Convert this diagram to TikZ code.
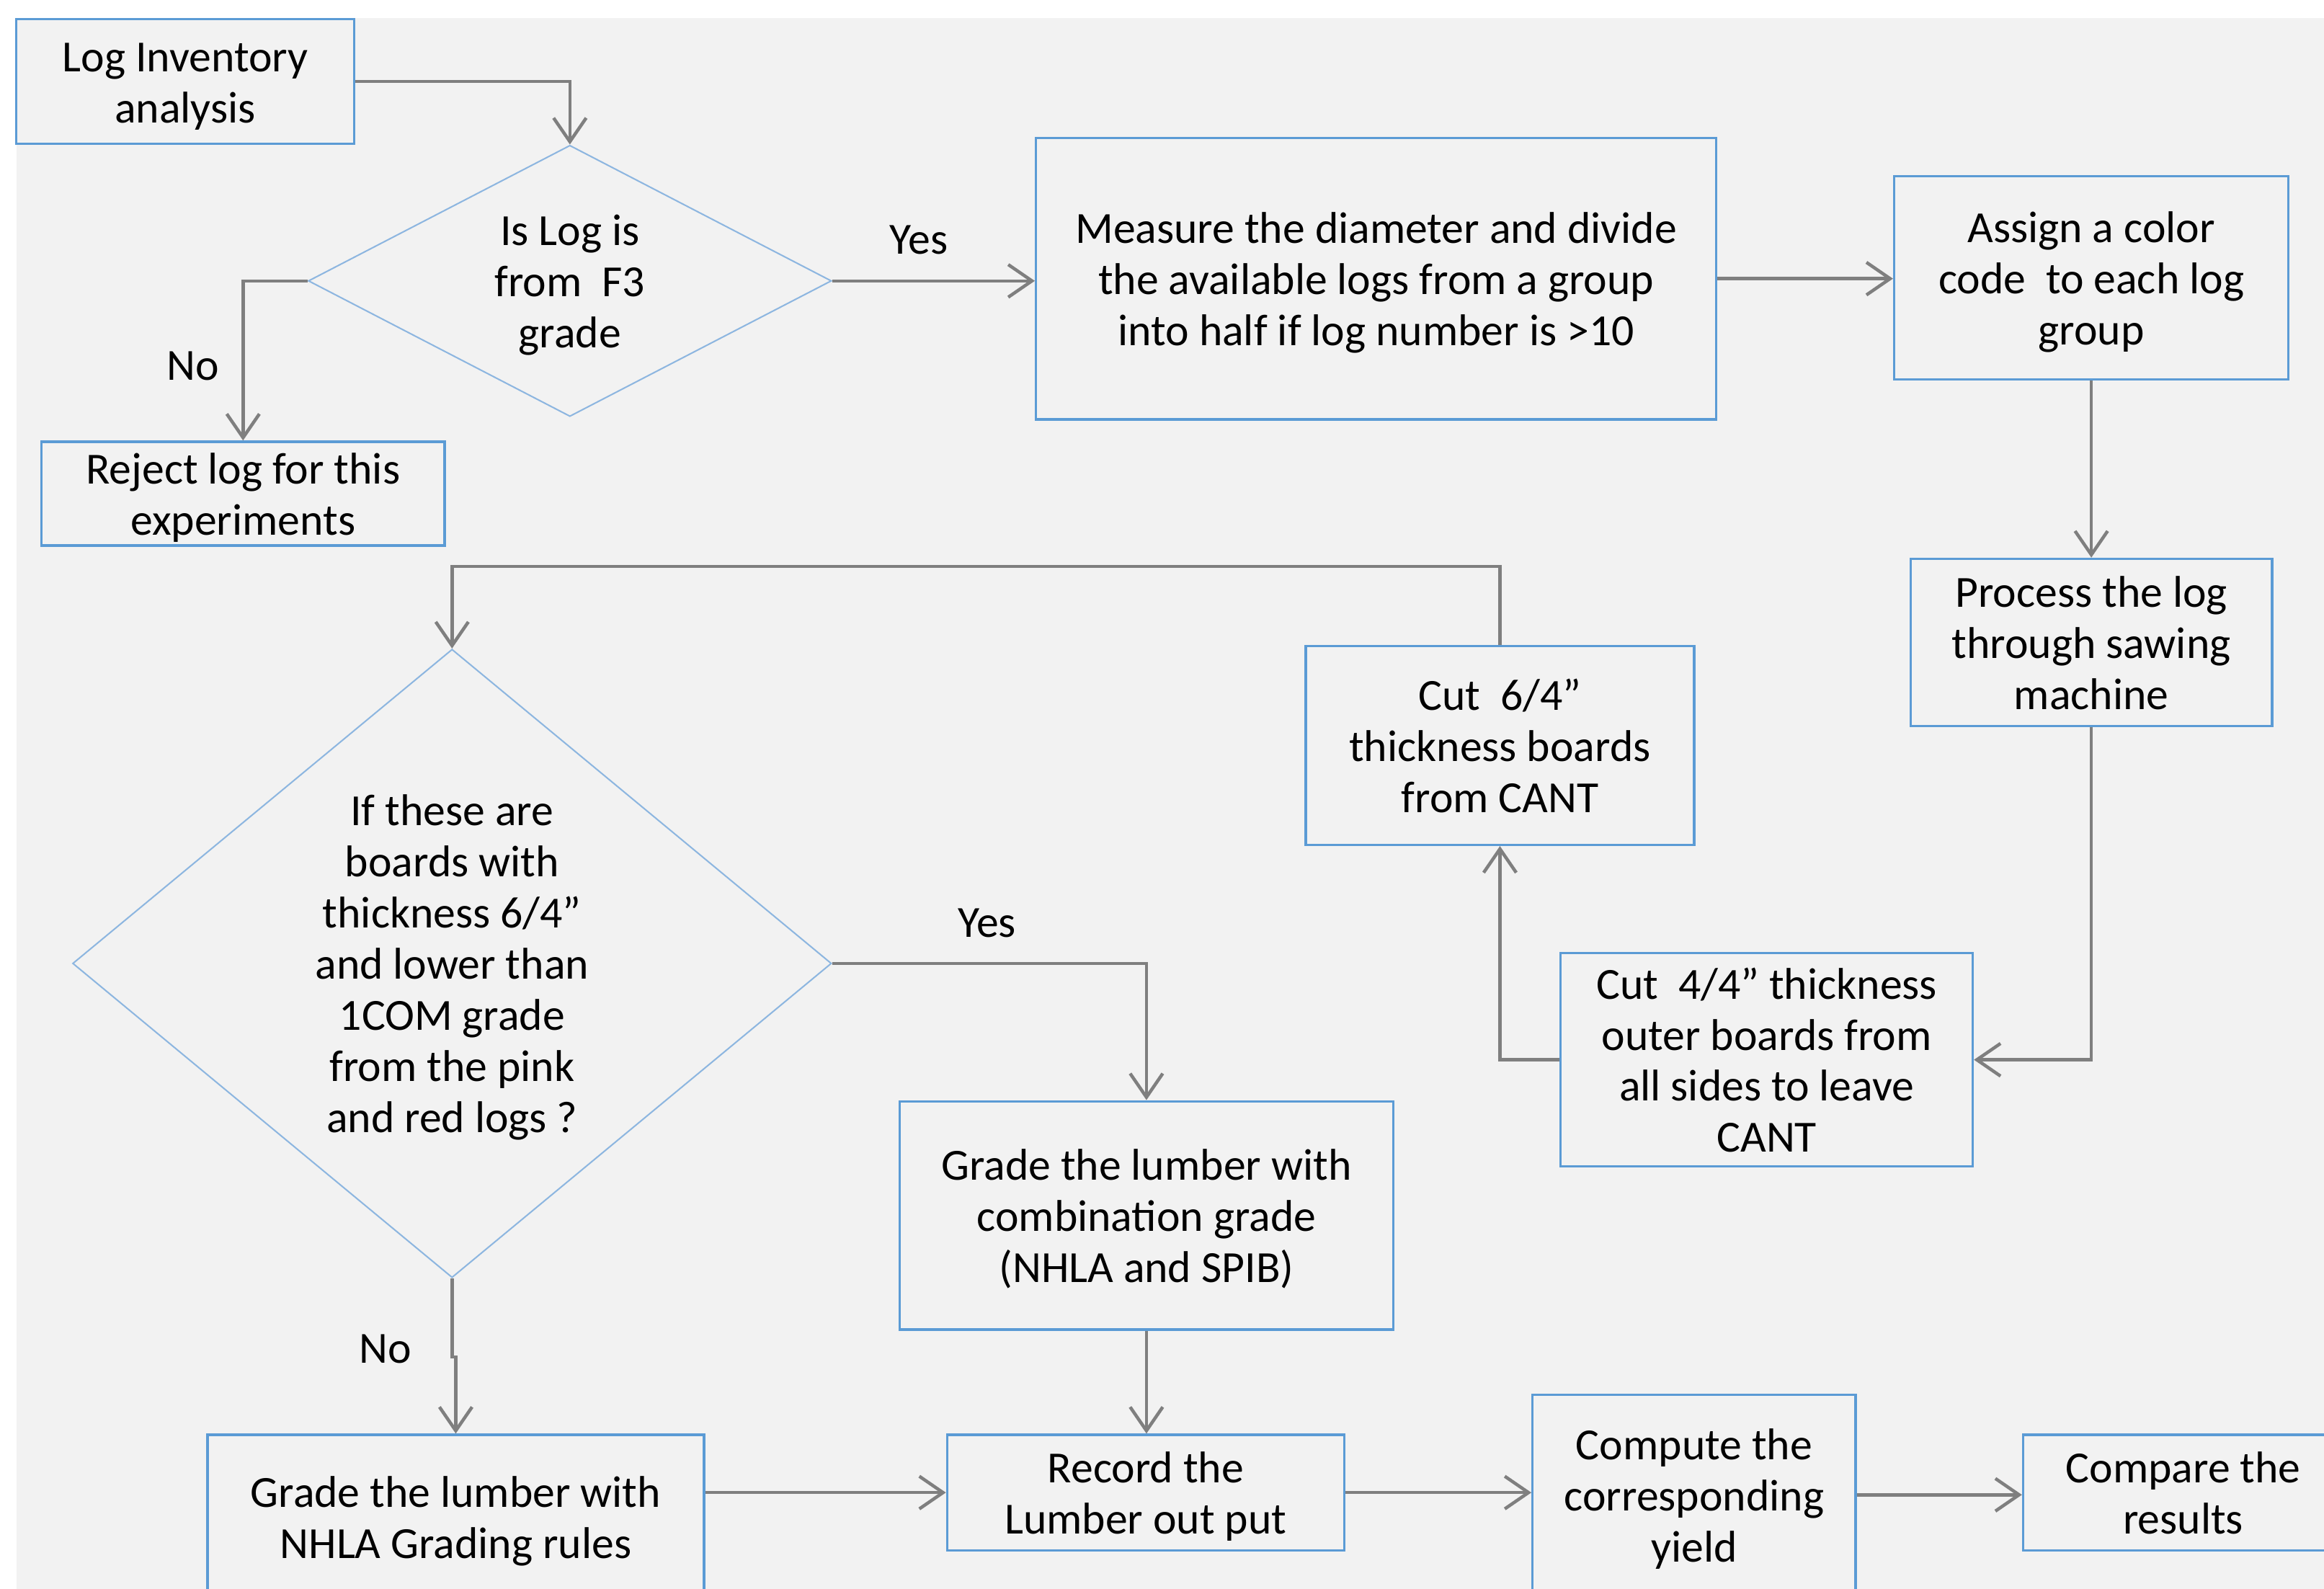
\documentclass[tikz,border=0pt]{standalone}
\usepackage{fontspec}
\setmainfont{Carlito}
\usetikzlibrary{shapes.geometric,arrows.meta}
\definecolor{bdr}{HTML}{5B9BD5}
\definecolor{dia}{HTML}{8DB6E0}
\definecolor{arr}{HTML}{7F7F7F}
\definecolor{bgc}{HTML}{F2F2F2}
\begin{document}
\begin{tikzpicture}[x=0.5pt,y=-0.5pt,
  txt/.style={font=\fontsize{15}{17.25}\selectfont,text=black},
  lines2/.style={text height=31.4pt,text depth=3.5pt},
  lines3/.style={text height=48.65pt,text depth=3.5pt},
  lines4/.style={text height=65.9pt,text depth=3.5pt},
  lines7/.style={text height=117.65pt,text depth=3.5pt},
  box/.style={txt,draw=bdr,line width=0.8pt,rectangle,inner sep=0pt,align=center},
  dec/.style={txt,draw=dia,line width=0.5pt,diamond,inner sep=0pt,align=center},
  conn/.style={draw=arr,line width=1.1pt,-{Straight Barb[length=8pt,width=11pt,line width=1.1pt]}},
  lbl/.style={txt}]
\useasboundingbox (0,0) rectangle (1568,1072);
\clip (0,0) rectangle (1568,1072);
\fill[white] (0,0) rectangle (1568,1072);
\fill[bgc] (11,12) rectangle (1568,1072);

\node[box,lines2,minimum width=114pt,minimum height=42pt] (A) at (125,55) {Log Inventory\\analysis};
\node[dec,lines3,shape aspect=1.93,minimum width=176.5pt,minimum height=91.5pt] (D1) at (384.5,189.5) {Is Log is\\from\ \ F3\\grade};
\node[box,lines3,minimum width=229.5pt,minimum height=95pt] (B) at (928.5,188) {Measure the diameter and divide\\the available logs from a group\\into half if log number is >10};
\node[box,lines3,minimum width=133pt,minimum height=68.5pt] (C) at (1411,187.5) {Assign a color\\code\ \ to each log\\group};
\node[box,lines2,minimum width=136pt,minimum height=35pt] (R) at (164,333) {Reject log for this\\experiments};
\node[box,lines3,minimum width=122pt,minimum height=56.5pt] (P) at (1411,433.5) {Process the log\\through sawing\\machine};
\node[box,lines3,minimum width=131pt,minimum height=67pt] (K6) at (1012,503) {Cut\ \ 6/4”\\thickness boards\\from CANT};
\node[box,lines4,minimum width=139pt,minimum height=72pt] (K4) at (1192,715) {Cut\ \ 4/4” thickness\\outer boards from\\all sides to leave\\CANT};
\node[dec,lines7,shape aspect=1.2075,minimum width=256pt,minimum height=212pt] (D2) at (305,650) {If these are\\boards with\\thickness 6/4”\\and lower than\\1COM grade\\from the pink\\and red logs ?};
\node[box,lines3,minimum width=166.5pt,minimum height=77pt] (G) at (773.5,820) {Grade the lumber with\\combination grade\\(NHLA and SPIB)};
\node[box,lines2,minimum width=167.5pt,minimum height=55.5pt] (N) at (307.5,1023.5) {Grade the lumber with\\NHLA Grading rules};
\node[box,lines2,minimum width=134pt,minimum height=39pt] (Rec) at (773,1007) {Record the\\Lumber out put};
\node[box,lines3,minimum width=109pt,minimum height=67.5pt] (Cmp) at (1143,1008.5) {Compute the\\corresponding\\yield};
\node[box,lines2,minimum width=108pt,minimum height=39pt] (Cpr) at (1473,1007) {Compare the\\results};

\node[lbl] (no1) at (130,247) {No};
\node[lbl] (yes1) at (620,162) {Yes};
\node[lbl] (yes2) at (666,623) {Yes};
\node[lbl] (no2) at (260,910) {No};

\draw[conn] (A.east) -| (D1.north);
\draw[conn] (D1.west) -| (R.north);
\draw[conn] (D1.east) -- (D1.east -| B.west);
\draw[conn] (B.east) -- (B.east -| C.west);
\draw[conn] (C.south) -- (P.north);
\draw[conn] (P.south) |- (K4.east);
\draw[conn] (K4.west) -| (K6.south);
\draw[conn] (K6.north) -- ++(0,-53) -| (D2.north);
\draw[conn] (D2.east) -| (G.north);
\draw[conn] (D2.south) -- ++(0,53) -| (N.north);
\draw[conn] (G.south) -- (G.south |- Rec.north);
\draw[conn] (N.east |- Rec.west) -- (Rec.west);
\draw[conn] (Rec.east) -- (Rec.east -| Cmp.west);
\draw[conn] (Cmp.east) -- (Cmp.east -| Cpr.west);
\end{tikzpicture}
\end{document}
